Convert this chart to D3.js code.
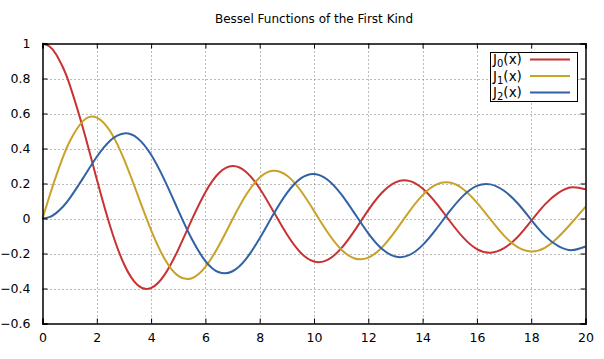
<!DOCTYPE html>
<html><head><meta charset="utf-8">
<script src="https://cdn.jsdelivr.net/npm/d3@7"></script>
<style>
body{margin:0;background:#fff;}
text{font-family:"DejaVu Sans",sans-serif;fill:#000;}
</style></head>
<body>
<svg id="c" width="604" height="359"></svg>
<script>
const xs = [0,0.25,0.5,0.75,1,1.5,2,2.5,3,3.5,4,4.5,5,5.5,6,6.5,7,7.5,8,8.5,9,9.5,10,10.5,11,11.5,12,12.5,13,13.5,14,14.5,15,15.5,16,16.5,17,17.5,18,18.5,19,19.5,20];
const j0 = [1.0,0.9844,0.9385,0.8642,0.7652,0.5118,0.2239,-0.0484,-0.2601,-0.3801,-0.3971,-0.3205,-0.1776,-0.0068,0.1506,0.2601,0.3001,0.2663,0.1717,0.0419,-0.0903,-0.1939,-0.2459,-0.2366,-0.1712,-0.0677,0.0477,0.1469,0.2069,0.2150,0.1711,0.0875,-0.0142,-0.1092,-0.1749,-0.1957,-0.1699,-0.1058,-0.0134,0.0796,0.1466,0.1784,0.1670];
const j1 = [0,0.1240,0.2423,0.3493,0.4401,0.5579,0.5767,0.4971,0.3391,0.1374,-0.0660,-0.2311,-0.3276,-0.3414,-0.2767,-0.1538,-0.0047,0.1352,0.2346,0.2731,0.2453,0.1613,0.0435,-0.0789,-0.1768,-0.2284,-0.2234,-0.1655,-0.0703,0.0380,0.1334,0.1934,0.2051,0.1672,0.0904,-0.0053,-0.0977,-0.1636,-0.1880,-0.1672,-0.1057,-0.0230,0.0668];
const j2 = [0,0.0078,0.0306,0.0671,0.1149,0.2321,0.3528,0.4461,0.4861,0.4586,0.3641,0.2178,0.0466,-0.1173,-0.2429,-0.3074,-0.3014,-0.2303,-0.1130,0.0223,0.1448,0.2279,0.2546,0.2216,0.1390,0.0280,-0.0849,-0.1734,-0.2177,-0.2094,-0.1520,-0.0608,0.0416,0.1308,0.1862,0.1951,0.1584,0.0871,-0.0075,-0.0977,-0.1578,-0.1807,-0.1603];
const seriesNames = ["0","1","2"];
const seriesColors = ["#c83232","#c9a228","#3162a6"];
const xTicks = [0,2,4,6,8,10,12,14,16,18,20];
const yTicks = [-0.6,-0.4,-0.2,0,0.2,0.4,0.6,0.8,1];
const title = "Bessel Functions of the First Kind";

const svg = d3.select("#c");
const L=42.5, R=585.5, T=43.5, B=323.5;
const x = d3.scaleLinear().domain([0,20]).range([L,R]);
const y = d3.scaleLinear().domain([-0.6,1]).range([B,T]);

// grid
const g = svg.append("g");
g.selectAll("line.gx").data(xTicks.slice(1,-1)).enter().append("line")
 .attr("x1",d=>Math.round(x(d))+0.5).attr("x2",d=>Math.round(x(d))+0.5).attr("y1",T).attr("y2",B)
 .attr("stroke","#777").attr("stroke-width",1).attr("stroke-dasharray","1,3");
g.selectAll("line.gy").data(yTicks.slice(1,-1)).enter().append("line")
 .attr("y1",d=>Math.round(y(d))+0.5).attr("y2",d=>Math.round(y(d))+0.5).attr("x1",L).attr("x2",R)
 .attr("stroke","#777").attr("stroke-width",1).attr("stroke-dasharray","1,3");

// curves
const data = [j0,j1,j2];
const line = d3.line().x((d,i)=>x(xs[i])).y(d=>y(d)).curve(d3.curveNatural);
svg.append("g").selectAll("path").data(data).enter().append("path")
 .attr("d",d=>line(d)).attr("fill","none").attr("stroke",(d,i)=>seriesColors[i]).attr("stroke-width",2);

// axes (inward ticks on all sides)
const tk=5;
const ax = svg.append("g");
ax.append("g").attr("transform",`translate(0,${B})`).call(d3.axisBottom(x).tickValues(xTicks).tickSize(-tk).tickPadding(10).tickFormat(d3.format("d")));
ax.append("g").attr("transform",`translate(0,${T})`).call(d3.axisTop(x).tickValues(xTicks).tickSize(-tk).tickFormat(""));
ax.append("g").attr("transform",`translate(${L},0)`).call(d3.axisLeft(y).tickValues(yTicks).tickSize(-tk).tickPadding(12).tickFormat(d=>d3.format("")(+d.toFixed(1))));
ax.append("g").attr("transform",`translate(${R},0)`).call(d3.axisRight(y).tickValues(yTicks).tickSize(-tk).tickFormat(""));
ax.selectAll(".domain").attr("stroke","#000").attr("stroke-width",1.5);
ax.selectAll(".tick line").attr("stroke","#000").attr("stroke-width",1);
ax.selectAll(".tick text").attr("font-family","DejaVu Sans").attr("font-size",12.5).attr("fill","#000");

// title
svg.append("text").attr("x",314).attr("y",23).attr("text-anchor","middle").attr("font-size",12).text(title);

// legend
const lg = svg.append("g");
lg.append("rect").attr("x",490.5).attr("y",52.5).attr("width",87).attr("height",49).attr("fill","#fff").attr("stroke","#000").attr("stroke-width",1);
seriesNames.forEach((n,i)=>{
  const cy = 59+i*16.5;
  const t = lg.append("text").attr("x",493).attr("y",cy+5).attr("font-size",13.5);
  t.append("tspan").text("J");
  t.append("tspan").attr("font-size",10).attr("dy",3).text(n);
  t.append("tspan").attr("dy",-3).text("(x)");
  lg.append("line").attr("x1",530).attr("x2",570).attr("y1",cy+0.5).attr("y2",cy+0.5).attr("stroke",seriesColors[i]).attr("stroke-width",2);
});
</script>
</body></html>
